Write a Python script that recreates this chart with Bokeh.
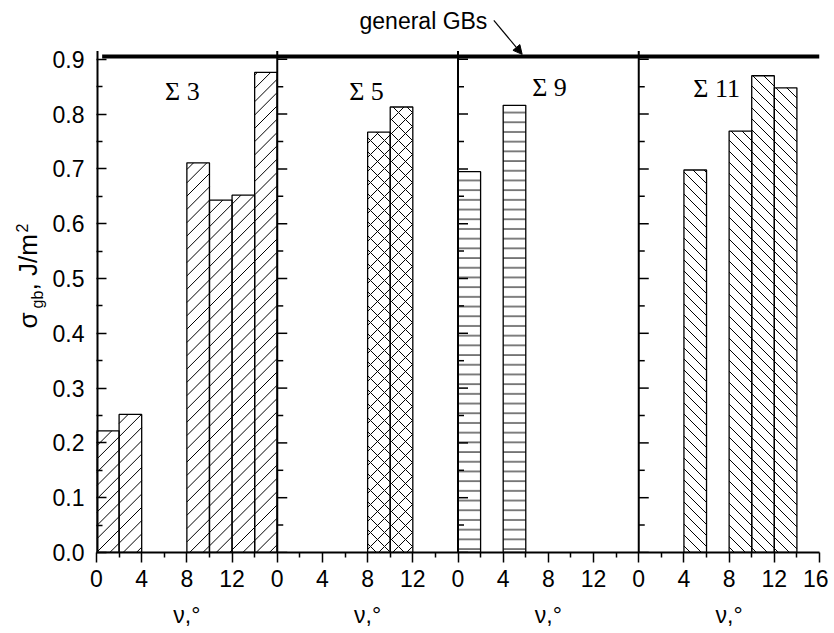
import math
from bokeh.plotting import figure
from bokeh.layouts import row
from bokeh.models import FixedTicker, Label, Arrow, NormalHead, PrintfTickFormatter, LinearAxis
from bokeh.embed import file_html
from bokeh.resources import INLINE

# ---------------- data ----------------
panel_names = ["Σ 3", "Σ 5", "Σ 9", "Σ 11"]
panel_width = 16          # each panel spans nu = 0..16
bar_width = 2

s3_nu = [1, 3, 9, 11, 13, 15]
s3_sigma = [0.222, 0.252, 0.711, 0.643, 0.652, 0.876]

s5_nu = [9, 11]
s5_sigma = [0.767, 0.813]

s9_nu = [1, 5]
s9_sigma = [0.695, 0.816]

s11_nu = [5, 9, 11, 13]
s11_sigma = [0.698, 0.769, 0.870, 0.848]

general_gb = 0.905
general_gb_text = "general GBs"
x_label_text = "ν,°"
x_tick_values = [0, 4, 8, 12]
x_minor_values = [2, 6, 10, 14]
y_ticks = [0.0, 0.1, 0.2, 0.3, 0.4, 0.5, 0.6, 0.7, 0.8, 0.9]
y_minor = [0.05, 0.15, 0.25, 0.35, 0.45, 0.55, 0.65, 0.75, 0.85]

series_nu = [s3_nu, s5_nu, s9_nu, s11_nu]
series_sigma = [s3_sigma, s5_sigma, s9_sigma, s11_sigma]
hatch_patterns = ["/", "x", "-", "\\"]
hatch_scales = [13.3, 14, 9.7, 11]     # px spacing
label_pos_x = [7.6, 7.9, 8.1, 6.9]
label_pos_y = [0.841, 0.841, 0.848, 0.846]

n_panels = len(panel_names)
x_max = n_panels * panel_width
y_axis_top = 0.915
y_max = 1.0

FONT = "Liberation Sans"
SERIF = "Liberation Serif"
H = 632
LAB_W = 48
BORDER_TOP, BORDER_BOTTOM = 4, 80
FRAME_W = 723
FRAME_H = H - BORDER_TOP - BORDER_BOTTOM

# ---------------- y-axis label panel ----------------
lab = figure(width=LAB_W, height=H, x_range=(0, LAB_W),
             y_range=(BORDER_BOTTOM, H - BORDER_TOP),
             x_axis_type=None, y_axis_type=None,
             min_border_left=0, min_border_right=0,
             min_border_top=BORDER_TOP, min_border_bottom=BORDER_BOTTOM,
             output_backend="svg", toolbar_location=None)
lab.outline_line_color = None
lab.grid.visible = False
rot = math.pi / 2
ylab_parts = [("σ", "26px", 27.5, 328), ("gb", "16px", 36.5, 308),
              (", J/m", "26px", 27.5, 290), ("2", "16px", 21.0, 232)]
for txt, fs, px, py in ylab_parts:
    lab.add_layout(Label(x=px, y=H - py, text=txt, angle=rot, text_font=FONT,
                         text_font_size=fs, text_align="left", text_baseline="middle",
                         text_color="black"))

# ---------------- main plot ----------------
p = figure(width=828 - LAB_W, height=H, x_range=(0, x_max), y_range=(0, y_max),
           output_backend="svg", toolbar_location=None,
           min_border_left=96 - LAB_W, min_border_right=9,
           min_border_top=BORDER_TOP, min_border_bottom=BORDER_BOTTOM)
p.outline_line_color = None
p.grid.visible = False
p.background_fill_color = "white"

sx = FRAME_W / x_max
sy = FRAME_H / y_max


def diag_hatch(xa, xb, top, spacing, slope):
    """45-degree hatch lines (screen space) clipped to one bar."""
    Xa, Xb, Ht = xa * sx, xb * sx, top * sy
    x0s, y0s, x1s, y1s = [], [], [], []
    if slope > 0:
        kmin, kmax = math.floor(-Xb / spacing), math.ceil((Ht - Xa) / spacing)
    else:
        kmin, kmax = math.floor(Xa / spacing), math.ceil((Ht + Xb) / spacing)
    for k in range(kmin, kmax + 1):
        C = k * spacing
        if slope > 0:
            X0, X1 = max(Xa, -C), min(Xb, Ht - C)
            f = lambda X: X + C
        else:
            X0, X1 = max(Xa, C - Ht), min(Xb, C)
            f = lambda X: C - X
        if X1 - X0 > 0.3:
            x0s.append(X0 / sx); y0s.append(f(X0) / sy)
            x1s.append(X1 / sx); y1s.append(f(X1) / sy)
    return x0s, y0s, x1s, y1s


for i in range(n_panels):
    off = i * panel_width
    xs = [off + v for v in series_nu[i]]
    pat = hatch_patterns[i]
    manual = pat in ("/", "\\")
    p.vbar(x=xs, top=series_sigma[i], width=bar_width, bottom=0,
           fill_color="white", line_color=None,
           hatch_pattern=None if manual else pat, hatch_scale=hatch_scales[i],
           hatch_weight=1.0, hatch_color="black")
    if manual:
        hx0, hy0, hx1, hy1 = [], [], [], []
        for x, t in zip(xs, series_sigma[i]):
            a, b, c, d = diag_hatch(x - bar_width / 2, x + bar_width / 2, t,
                                    hatch_scales[i], 1 if pat == "/" else -1)
            hx0 += a; hy0 += b; hx1 += c; hy1 += d
        p.segment(x0=hx0, y0=hy0, x1=hx1, y1=hy1, line_color="black", line_width=1)
    p.vbar(x=xs, top=series_sigma[i], width=bar_width, bottom=0,
           fill_color=None, line_color="black", line_width=1.3)
    p.add_layout(Label(x=off + label_pos_x[i], y=label_pos_y[i], text=panel_names[i],
                       text_font=SERIF, text_font_size="26px", text_align="center",
                       text_baseline="middle", text_color="black"))

# panel axes lines (left one + inner ones)
bounds = [i * panel_width for i in range(0, n_panels)]
p.segment(x0=bounds, y0=[0] * len(bounds), x1=bounds, y1=[y_axis_top] * len(bounds),
          line_color="black", line_width=[4] + [2] * (len(bounds) - 1))
for b in bounds[1:]:
    p.ray(x=[b] * len(y_ticks), y=y_ticks, length=10, length_units="screen",
          angle=0, line_color="black", line_width=1.5)
    p.ray(x=[b] * len(y_minor), y=y_minor, length=6, length_units="screen",
          angle=0, line_color="black", line_width=1.5)

# general GBs line and annotation
p.segment(x0=[0.5], y0=[general_gb], x1=[x_max], y1=[general_gb],
          line_color="black", line_width=4)
p.add_layout(Label(x=34.6, y=0.970, text=general_gb_text, text_font=FONT,
                   text_font_size="23px", text_align="right",
                   text_baseline="middle", text_color="black"))
p.add_layout(Arrow(x_start=35.17, y_start=0.971, x_end=37.68, y_end=general_gb + 0.004,
                   line_width=1.2, line_color="black",
                   end=NormalHead(size=9, fill_color="black", line_color="black")))

# x axis
xt, xo = [], {}
for i in range(n_panels):
    for t in x_tick_values:
        xt.append(i * panel_width + t)
        xo[i * panel_width + t] = str(t)
xt.append(x_max)
xo[x_max] = str(panel_width)
xm = [i * panel_width + t for i in range(n_panels) for t in x_minor_values]
p.xaxis.ticker = FixedTicker(ticks=xt, minor_ticks=xm)
p.xaxis.major_label_overrides = xo
p.xaxis.major_tick_out = 10
p.xaxis.major_tick_in = 0
p.xaxis.minor_tick_out = 5
p.xaxis.minor_tick_in = 0
p.xaxis.axis_line_width = 2
p.xaxis.major_tick_line_width = 1.5
p.xaxis.minor_tick_line_width = 1.5
p.xaxis.major_label_text_font = FONT
p.xaxis.major_label_text_font_size = "23px"
p.xaxis.major_label_text_color = "black"
p.xaxis.major_label_standoff = 7

# second axis below carrying the per-panel axis titles
centers = [i * panel_width + panel_width / 2 for i in range(n_panels)]
nu_axis = LinearAxis(ticker=FixedTicker(ticks=centers, minor_ticks=[]),
                     major_label_overrides={c: x_label_text for c in centers},
                     axis_line_color=None, major_tick_line_color=None,
                     minor_tick_line_color=None, major_label_standoff=6,
                     major_label_text_font=FONT, major_label_text_font_size="23px",
                     major_label_text_color="black")
p.add_layout(nu_axis, "below")

# y axis
p.yaxis.ticker = FixedTicker(ticks=y_ticks, minor_ticks=y_minor)
p.yaxis.formatter = PrintfTickFormatter(format="%.1f")
p.yaxis.major_tick_in = 10
p.yaxis.major_tick_out = 0
p.yaxis.minor_tick_in = 6
p.yaxis.minor_tick_out = 0
p.yaxis.axis_line_color = None
p.yaxis.major_tick_line_width = 1.5
p.yaxis.minor_tick_line_width = 1.5
p.yaxis.major_label_text_font = FONT
p.yaxis.major_label_text_font_size = "23px"
p.yaxis.major_label_text_color = "black"
p.yaxis.major_label_standoff = 12

layout = row(lab, p, spacing=0)
open("out.html", "w").write(file_html(layout, INLINE))
